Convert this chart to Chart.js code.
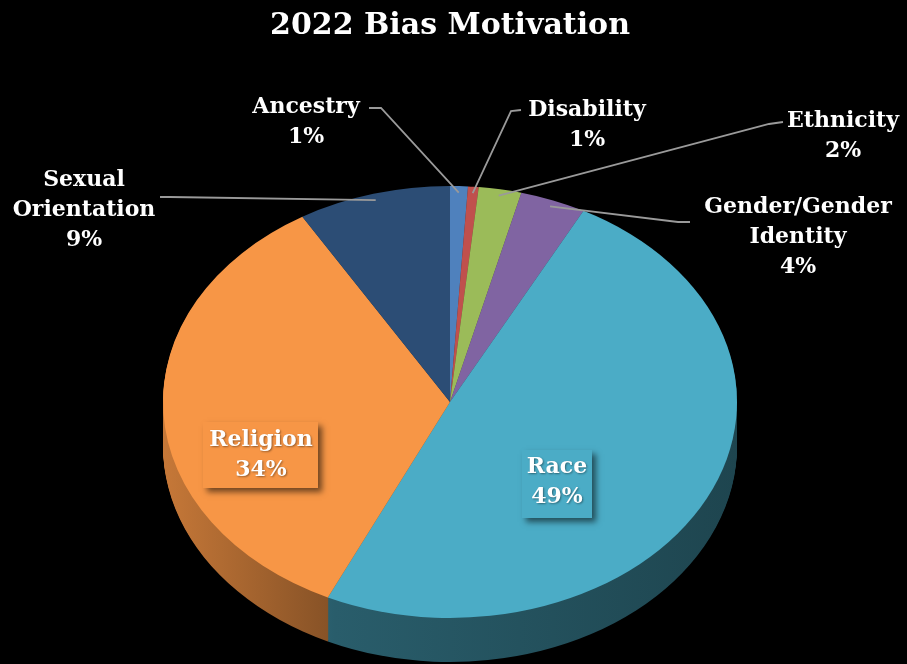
<!DOCTYPE html>
<html>
<head>
<meta charset="utf-8">
<script src="https://cdn.jsdelivr.net/npm/chart.js@4"></script>
<style>
  html, body { margin: 0; padding: 0; background: #000; }
  canvas { display: block; }
</style>
</head>
<body>
<canvas id="graficoPizza" width="907" height="664"></canvas>
<script>
// Dados do gráfico
const categorias = ['Ancestry', 'Disability', 'Ethnicity', 'Gender/Gender Identity', 'Race', 'Religion', 'Sexual Orientation'];
const percentuais = [1.0, 0.6, 2.4, 3.7, 49.3, 34.4, 8.6];
const coresFatias = ['#4F81BD', '#C0504D', '#9BBB59', '#8064A2', '#4BACC6', '#F79646', '#2C4D75'];

// Posições dos rótulos (layout, não dados)
const layoutRotulos = [
    { x: 306, y: 107, linhas: ['Ancestry'], linha: [[369, 108], [381, 108]] },
    { x: 587, y: 110, linhas: ['Disability'], linha: [[521, 110], [511, 111]] },
    { x: 843, y: 121, linhas: ['Ethnicity'], linha: [[783, 122], [769, 124]] },
    { x: 798, y: 207, linhas: ['Gender/Gender', 'Identity'], linha: [[690, 222], [678, 222]] },
    { x: 557, y: 467, linhas: ['Race'], caixa: [522, 450, 70, 68] },
    { x: 261, y: 440, linhas: ['Religion'], caixa: [203, 422, 115, 66] },
    { x: 84, y: 180, linhas: ['Sexual', 'Orientation'], linha: [[160, 197], [170, 197]] }
];

const fonteRotulo = 'bold 22px "DejaVu Serif"';
const alturaLinha = 30;
const centroElipseY = 402;
const raioVertical = 216;
const profundidade = 44;

// Escurece uma cor hex
function escurecer(hex, f) {
    const n = parseInt(hex.slice(1), 16);
    const r = Math.round(((n >> 16) & 255) * f);
    const g = Math.round(((n >> 8) & 255) * f);
    const b = Math.round((n & 255) * f);
    return `rgb(${r},${g},${b})`;
}

// Caminho de uma fatia a partir do elemento do Chart.js
function caminhoFatia(ctx, arc) {
    ctx.beginPath();
    ctx.moveTo(arc.x, arc.y);
    ctx.arc(arc.x, arc.y, arc.outerRadius, arc.startAngle, arc.endAngle);
    ctx.closePath();
}

// Plugin que achata a pizza e desenha a lateral 3D
const pizza3D = {
    id: 'pizza3D',
    beforeDraw(chart) {
        const ctx = chart.ctx;
        ctx.save();
        ctx.fillStyle = '#000';
        ctx.fillRect(0, 0, chart.width, chart.height);
        ctx.restore();
    },
    beforeDatasetsDraw(chart) {
        const ctx = chart.ctx;
        const arcos = chart.getDatasetMeta(0).data;
        const a0 = arcos[0];
        const k = raioVertical / a0.outerRadius;

        // Gradientes da lateral
        const gradientes = coresFatias.map(cor => {
            const g = ctx.createLinearGradient(a0.x - a0.outerRadius, 0, a0.x + a0.outerRadius, 0);
            g.addColorStop(0, escurecer(cor, 0.8));
            g.addColorStop(0.3, escurecer(cor, 0.54));
            g.addColorStop(1, escurecer(cor, 0.4));
            return g;
        });

        for (let d = profundidade; d >= 1; d--) {
            arcos.forEach((arc, i) => {
                ctx.save();
                ctx.translate(0, centroElipseY + d);
                ctx.scale(1, k);
                ctx.translate(0, -arc.y);
                caminhoFatia(ctx, arc);
                ctx.fillStyle = gradientes[i];
                ctx.fill();
                ctx.restore();
            });
        }

        // Face de cima achatada
        ctx.save();
        ctx.translate(0, centroElipseY);
        ctx.scale(1, k);
        ctx.translate(0, -a0.y);
    },
    afterDatasetsDraw(chart) {
        const ctx = chart.ctx;
        ctx.restore();

        const arcos = chart.getDatasetMeta(0).data;
        const total = percentuais.reduce((acc, v) => acc + v, 0);
        const k = raioVertical / arcos[0].outerRadius;

        arcos.forEach((arc, i) => {
            const rot = layoutRotulos[i];
            const texto = rot.linhas.concat([Math.round(percentuais[i] / total * 100) + '%']);

            if (rot.caixa) {
                // Caixa com sombra para os rótulos internos
                ctx.save();
                ctx.shadowColor = 'rgba(0,0,0,0.55)';
                ctx.shadowOffsetX = 4;
                ctx.shadowOffsetY = 4;
                ctx.shadowBlur = 6;
                ctx.fillStyle = coresFatias[i];
                ctx.fillRect(rot.caixa[0], rot.caixa[1], rot.caixa[2], rot.caixa[3]);
                ctx.restore();
            } else {
                // Linha de chamada até a borda da fatia
                const meio = (arc.startAngle + arc.endAngle) / 2;
                const r = arc.outerRadius * 0.97;
                const ax = arc.x + r * Math.cos(meio);
                const ay = centroElipseY + r * Math.sin(meio) * k;
                ctx.save();
                ctx.strokeStyle = '#9a9a9a';
                ctx.lineWidth = 1.8;
                ctx.beginPath();
                ctx.moveTo(rot.linha[0][0], rot.linha[0][1]);
                ctx.lineTo(rot.linha[1][0], rot.linha[1][1]);
                ctx.lineTo(ax, ay);
                ctx.stroke();
                ctx.restore();
            }

            ctx.save();
            ctx.font = fonteRotulo;
            ctx.fillStyle = '#fff';
            ctx.textAlign = 'center';
            ctx.textBaseline = 'middle';
            ctx.shadowColor = 'rgba(0,0,0,0.4)';
            ctx.shadowOffsetX = 1;
            ctx.shadowOffsetY = 1;
            ctx.shadowBlur = 2;
            texto.forEach((t, j) => {
                ctx.fillText(t, rot.x, rot.y + j * alturaLinha);
            });
            ctx.restore();
        });
    }
};

// Configuração do gráfico
const config = {
    type: 'pie',
    data: {
        labels: categorias,
        datasets: [{
            data: percentuais,
            backgroundColor: coresFatias,
            borderWidth: 0,
            clip: false
        }]
    },
    options: {
        responsive: false,
        devicePixelRatio: 1,
        animation: false,
        events: [],
        layout: {
            padding: { left: 163, right: 170, top: 0, bottom: 0 }
        },
        plugins: {
            legend: { display: false },
            tooltip: { enabled: false },
            title: {
                display: true,
                text: '2022 Bias Motivation',
                color: '#fff',
                font: { family: 'DejaVu Serif', size: 30, weight: 'bold' },
                padding: { top: 8, bottom: 10 }
            }
        }
    },
    plugins: [pizza3D]
};

new Chart(document.getElementById('graficoPizza'), config);
</script>
</body>
</html>
